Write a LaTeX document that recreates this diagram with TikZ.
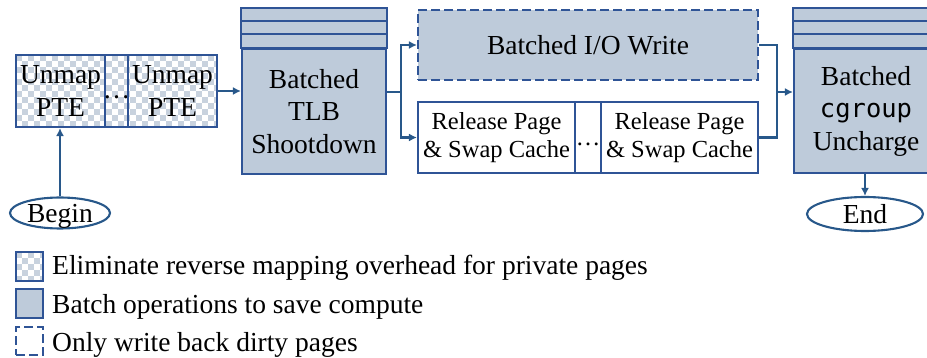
\documentclass[tikz,border=0pt]{standalone}
\usepackage{fontspec}
\setmainfont{Liberation Serif}
\newfontfamily\cgmono{DejaVu Sans Mono}
\usetikzlibrary{arrows.meta,shapes.geometric}

\definecolor{edgeblue}{RGB}{47,84,150}
\definecolor{arrowblue}{RGB}{40,88,138}
\definecolor{batchfill}{RGB}{190,203,218}
\definecolor{checkfill}{RGB}{200,210,222}

\newcommand{\bigtext}{\fontsize{27.5}{32.5}\selectfont}
\newcommand{\smalltext}{\fontsize{24.5}{28}\selectfont}

\tikzset{
  box/.style={draw=edgeblue, line width=2.1pt, rectangle, inner sep=0pt,
              align=center, font=\bigtext},
  batchbox/.style={box, fill=batchfill},
  plainbox/.style={box, fill=white, font=\smalltext},
  dashedge/.style={dashed, dash pattern=on 9pt off 4pt},
  ioboxstyle/.style={box, fill=batchfill, dashedge},
  terminal/.style={draw=arrowblue, line width=2.1pt, ellipse, inner sep=0pt,
                   font=\bigtext, fill=white},
  flow/.style={draw=arrowblue, line width=2.1pt,
               -{Latex[length=8pt,width=8pt]}},
  link/.style={draw=arrowblue, line width=2.1pt},
  stripe/.style={draw=edgeblue, line width=2.1pt},
  legendtext/.style={anchor=base west, inner sep=0pt, font=\bigtext}
}

% checkerboard filling of the rectangle (#1,#2)-(#3,#4), squares of 6pt
\newcommand{\checkerrect}[4]{%
  \begin{scope}
    \clip (#1,#2) rectangle (#3,#4);
    \fill[white] (#1,#2) rectangle (#3,#4);
    \foreach \i in {0,...,34}{
      \foreach \j in {0,...,13}{
        \pgfmathtruncatemacro\ckpar{mod(\i+\j,2)}
        \ifnum\ckpar=0
          \fill[checkfill] ({#1+6*\i},{#2+6*\j}) rectangle ++(6,6);
        \fi
      }
    }
  \end{scope}}

% striped header (three bands, 40pt tall) on top of a batched box
\newcommand{\stripehead}[1]{%
  \filldraw[stripe, fill=batchfill] (#1.north west) rectangle ([yshift=40pt]#1.north east);
  \draw[stripe] ([yshift=13.5pt]#1.north west) -- ([yshift=13.5pt]#1.north east);
  \draw[stripe] ([yshift=27pt]#1.north west) -- ([yshift=27pt]#1.north east);}

\begin{document}
\begin{tikzpicture}[x=1pt,y=-1pt]
  \useasboundingbox (0,0) rectangle (927,358);
  \begin{scope}
  \clip (0,0) rectangle (927,358);

  % checkered background of the unmap group
  \checkerrect{16}{55}{217}{127}

  % unmap group
  \node[box, minimum width=89pt, minimum height=72pt] (unmapA) at (60.5,91) {Unmap\\PTE};
  \node[box, minimum width=23pt, minimum height=72pt] (unmapDots) at (116.5,91) {};
  \node[font=\bigtext, inner sep=0pt] (unmapDotsText) at (116.5,97.5) {\dots};
  \node[box, minimum width=89pt, minimum height=72pt] (unmapB) at (172.5,91) {Unmap\\PTE};

  % begin
  \node[terminal, minimum width=100pt, minimum height=31pt] (begin) at (60,213) {};
  \node[font=\bigtext, inner sep=0pt, anchor=base] (beginText) at (60,223) {Begin};
  \draw[flow] (begin.north) -- (begin.north |- unmapA.south);

  % batched TLB shootdown
  \node[batchbox, minimum width=144pt, minimum height=125pt] (tlb) at (314,111.5)
       {Batched\\TLB\\Shootdown};
  \stripehead{tlb}

  \draw[flow] (unmapB.east) -- (unmapB.east -| tlb.west);

  % batched I/O write and release page
  \node[ioboxstyle, minimum width=340pt, minimum height=70pt] (io) at (588,45) {Batched I/O Write};
  \node[plainbox, minimum width=157pt, minimum height=71pt] (relA) at (496.5,137.5)
       {Release Page\\\& Swap Cache};
  \node[plainbox, minimum width=26pt, minimum height=71pt] (relDots) at (588,137.5) {};
  \node[font=\smalltext, inner sep=0pt] (relDotsText) at (588,144) {\dots};
  \node[plainbox, minimum width=157pt, minimum height=71pt] (relB) at (679.5,137.5)
       {Release Page\\\& Swap Cache};

  \coordinate (fork) at (401,92);
  \draw[link] (tlb.east |- fork) -- (fork);
  \draw[flow] (fork) |- (io.west);
  \draw[flow] (fork) |- (relA.west);

  % batched cgroup uncharge
  \node[batchbox, minimum width=144pt, minimum height=124pt] (cg) at (866,111)
       {Batched\\{\cgmono\fontsize{25.5}{32.5}\selectfont cgroup}\\Uncharge};
  \stripehead{cg}

  \coordinate (join) at (777,92);
  \draw[link] (io.east) -| (join) |- (relB.east);
  \draw[flow] (join) -- (join -| cg.west);

  % end
  \node[terminal, minimum width=116pt, minimum height=34pt] (end) at (865,214) {};
  \node[font=\bigtext, inner sep=0pt, anchor=base] (endText) at (865,224) {End};
  \draw[flow] (cg.south -| end.north) -- (end.north);

  % legend
  \checkerrect{16}{252}{43}{281}
  \node[box, minimum width=27pt, minimum height=29pt] (keyA) at (29.5,266.5) {};
  \node[legendtext] (keyAtext) at (52,275) {Eliminate reverse mapping overhead for private pages};
  \node[batchbox, minimum width=27pt, minimum height=29pt] (keyB) at (29.5,303.5) {};
  \node[legendtext] (keyBtext) at (52,313) {Batch operations to save compute};
  \node[box, dashedge, minimum width=27pt, minimum height=28pt] (keyC) at (29.5,341) {};
  \node[legendtext] (keyCtext) at (52,351) {Only write back dirty pages};
  \end{scope}
\end{tikzpicture}
\end{document}
